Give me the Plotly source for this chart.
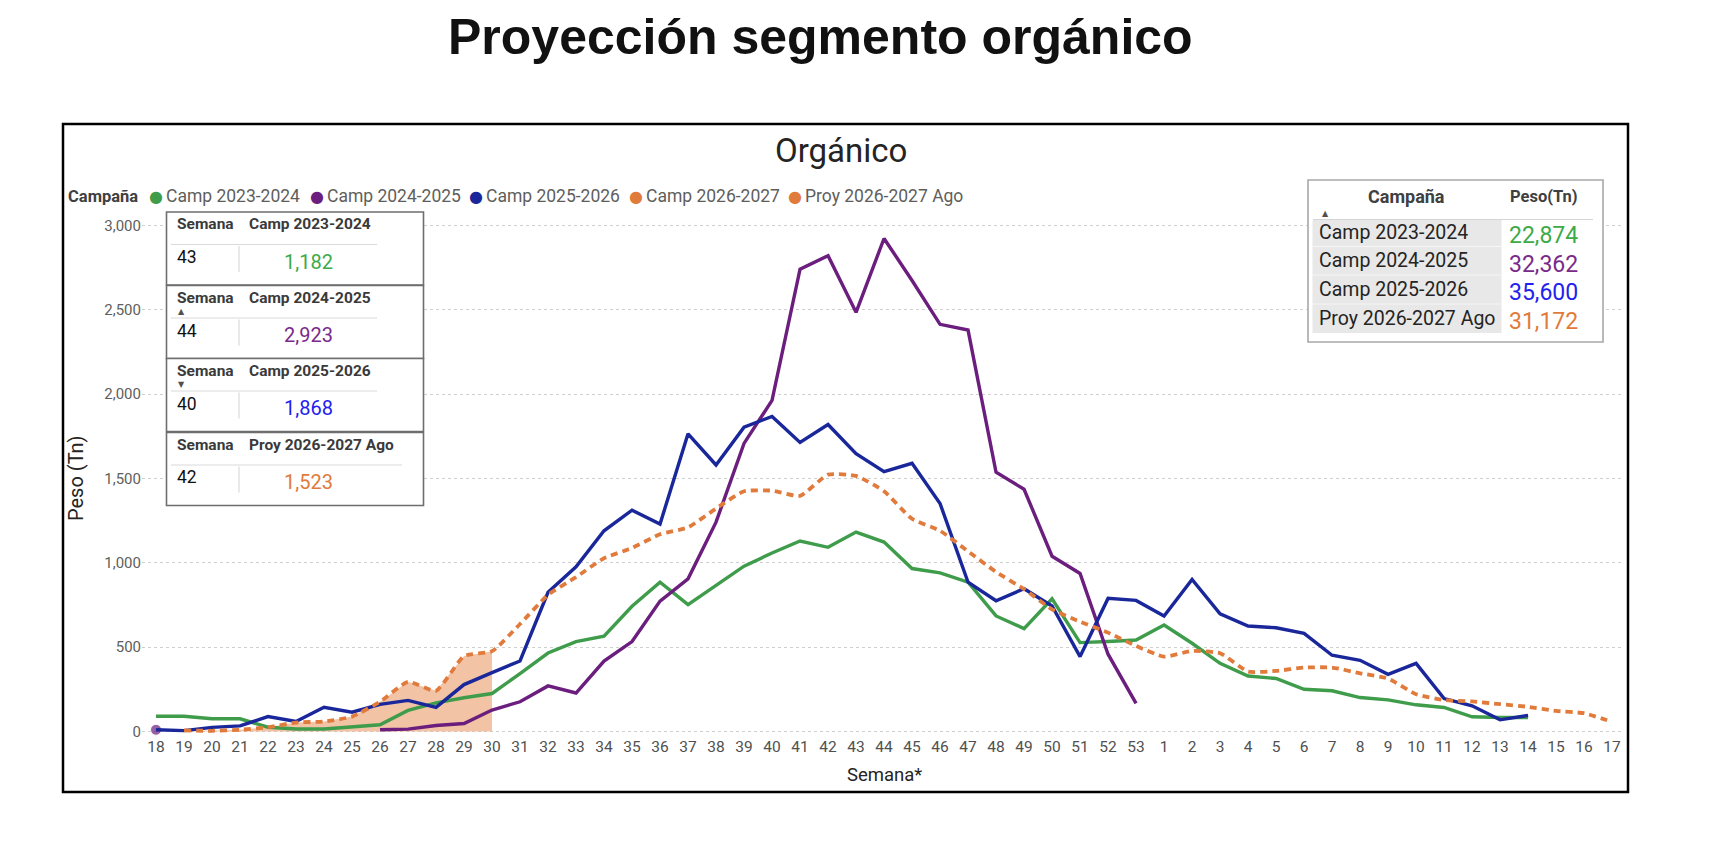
import plotly.graph_objects as go

# ---------------- DATA ----------------
weeks = ["18", "19", "20", "21", "22", "23", "24", "25", "26", "27", "28", "29", "30",
         "31", "32", "33", "34", "35", "36", "37", "38", "39", "40", "41", "42", "43",
         "44", "45", "46", "47", "48", "49", "50", "51", "52", "53",
         "1", "2", "3", "4", "5", "6", "7", "8", "9", "10", "11", "12", "13", "14",
         "15", "16", "17"]

camp_2023_2024 = [90, 90, 75, 75, 25, 15, 15, 30, 40, 125, 170, 200, 225,
                  343, 465, 533, 565, 742, 885, 752, 864, 980, 1058, 1129, 1092, 1182,
                  1123, 966, 940, 885, 685, 610, 787, 527, 533, 542,
                  631, 523, 404, 329, 314, 250, 241, 201, 187, 158, 142, 87, 83, 83,
                  None, None, None]

camp_2024_2025 = [10, None, None, None, None, None, None, None, 10, 14, 35, 47, 127,
                  176, 270, 228, 417, 533, 773, 905, 1241, 1708, 1963, 2741, 2821, 2485,
                  2923, 2674, 2414, 2380, 1537, 1436, 1039, 937, 458, 166,
                  None, None, None, None, None, None, None, None, None, None, None, None, None, None,
                  None, None, None]

camp_2025_2026 = [10, 5, 24, 33, 88, 59, 143, 114, 161, 184, 143, 278, 349,
                  418, 825, 976, 1190, 1312, 1230, 1765, 1580, 1804, 1868, 1714, 1820, 1647,
                  1540, 1590, 1352, 885, 775, 846, 744, 444, 789, 777,
                  684, 901, 698, 625, 615, 582, 452, 422, 339, 404, 195, 152, 69, 95,
                  None, None, None]

camp_2026_2027 = [None, 6, 4, 10, 25, 53, 59, 88, 176, 294, 241, 447, 476,
                  None, None, None, None, None, None, None, None, None, None, None, None, None,
                  None, None, None, None, None, None, None, None, None, None,
                  None, None, None, None, None, None, None, None, None, None, None, None, None, None,
                  None, None, None]

proy_2026_2027_ago = [None, 6, 4, 10, 25, 53, 59, 88, 176, 294, 241, 447, 476,
                      637, 810, 915, 1027, 1088, 1169, 1210, 1322, 1424, 1428, 1397, 1523, 1515,
                      1424, 1261, 1190, 1068, 946, 844, 724, 651, 586, 507,
                      444, 477, 464, 355, 359, 379, 379, 345, 314, 221, 187, 178, 162, 146,
                      122, 108, 57]

y_ticks = [0, 500, 1000, 1500, 2000, 2500, 3000]

# Max tables (left)
max_headers = ["Camp 2023-2024", "Camp 2024-2025", "Camp 2025-2026", "Proy 2026-2027 Ago"]
max_weeks = ["43", "44", "40", "42"]
max_values = ["1,182", "2,923", "1,868", "1,523"]

# Totals table (right)
total_names = ["Camp 2023-2024", "Camp 2024-2025", "Camp 2025-2026", "Proy 2026-2027 Ago"]
total_values = ["22,874", "32,362", "35,600", "31,172"]

legend_names = ["Camp 2023-2024", "Camp 2024-2025", "Camp 2025-2026", "Camp 2026-2027", "Proy 2026-2027 Ago"]

# ---------------- STYLE ----------------
C_GREEN = "#3E9C4B"
C_PURPLE = "#6B1E7E"
C_BLUE = "#19279B"
C_ORANGE = "#E07B3C"
C_FILL = "rgba(238,178,140,0.78)"
TXT_GREEN = "#3DAA48"
TXT_PURPLE = "#7A2A8A"
TXT_BLUE = "#2222EE"
TXT_ORANGE = "#E07B3C"
FONT = "Roboto"

W, H = 1726, 844
OFF = 8  # default page body margin
L, R, T, B = 142, 1623, 212, 735   # plot area in screenshot pixels

def fx(px):
    return (px - L) / (R - L)

def fy(py):
    return (B - py) / (B - T)

def isolated_sizes(vals, size):
    out = []
    for i, v in enumerate(vals):
        prev_v = vals[i - 1] if i > 0 else None
        next_v = vals[i + 1] if i < len(vals) - 1 else None
        out.append(size if (v is not None and prev_v is None and next_v is None) else 0)
    return out

fig = go.Figure()

fig.add_trace(go.Scatter(x=weeks, y=camp_2026_2027, name="Camp 2026-2027", mode="lines",
                         line=dict(width=0, color=C_FILL), fill="tozeroy", fillcolor=C_FILL,
                         showlegend=False))
fig.add_trace(go.Scatter(x=weeks, y=camp_2023_2024, name="Camp 2023-2024", mode="lines",
                         line=dict(width=3.4, color=C_GREEN), showlegend=False))
fig.add_trace(go.Scatter(x=weeks, y=camp_2024_2025, name="Camp 2024-2025", mode="lines+markers",
                         line=dict(width=3.4, color=C_PURPLE),
                         marker=dict(size=isolated_sizes(camp_2024_2025, 11), color=C_PURPLE),
                         cliponaxis=False, showlegend=False))
fig.add_trace(go.Scatter(x=weeks, y=camp_2025_2026, name="Camp 2025-2026", mode="lines",
                         line=dict(width=3.4, color=C_BLUE), showlegend=False))
fig.add_trace(go.Scatter(x=weeks, y=proy_2026_2027_ago, name="Proy 2026-2027 Ago", mode="lines",
                         line=dict(width=3.8, color=C_ORANGE, dash="7px,5px", shape="spline", smoothing=0.5),
                         showlegend=False))

shapes = []
annotations = []

def ann(text, x, y, size, color, xanchor="center", family=FONT, **kw):
    annotations.append(dict(text=text, xref="paper", yref="paper", x=fx(x), y=fy(y),
                            xanchor=xanchor, yanchor="middle", showarrow=False,
                            font=dict(family=family, size=size, color=color), **kw))

# Outer frame
shapes.append(dict(type="rect", xref="paper", yref="paper", x0=fx(63), x1=fx(1628), y0=fy(792), y1=fy(124),
                   line=dict(color="black", width=2.5), layer="above"))

# Titles
ann("<b>Proyección segmento orgánico</b>", 820, 37, 50, "#111111", family="Liberation Sans")
ann("Orgánico", 841, 151, 33, "#252423")

# Legend
ann("<b>Campaña</b>", 140, 196, 16.5, "#404040", xanchor="right")
dot_x = [156, 317, 476, 636, 795]
leg_colors = [C_GREEN, C_PURPLE, C_BLUE, C_ORANGE, C_ORANGE]
for name, dx, col in zip(legend_names, dot_x, leg_colors):
    ann("●", dx, 196, 16, col, family="DejaVu Sans")
    ann(name, dx + 8, 196, 17.5, "#605E5C", xanchor="left")

# Axis titles
ann("Peso (Tn)", 76, 478, 20, "#252423", textangle=-90)
ann("Semana*", 884, 775, 18.5, "#252423")

# Left max tables
block_tops = [212, 285.5, 358.5, 432.5]
block_h = 73
val_colors = [TXT_GREEN, TXT_PURPLE, TXT_BLUE, TXT_ORANGE]
arrows = ["", "▲", "▼", ""]
for hdr, wk, val, col, arr, t in zip(max_headers, max_weeks, max_values, val_colors, arrows, block_tops):
    shapes.append(dict(type="rect", xref="paper", yref="paper", x0=fx(166.5), x1=fx(423.5),
                       y0=fy(t + block_h), y1=fy(t), fillcolor="white",
                       line=dict(color="#6E6E6E", width=1.6), layer="above"))
    line_end = 402 if len(hdr) > 15 else 377
    shapes.append(dict(type="line", xref="paper", yref="paper", x0=fx(171), x1=fx(line_end),
                       y0=fy(t + 32.5), y1=fy(t + 32.5), line=dict(color="#DADADA", width=1.2), layer="above"))
    shapes.append(dict(type="line", xref="paper", yref="paper", x0=fx(239), x1=fx(239),
                       y0=fy(t + 34), y1=fy(t + 60), line=dict(color="#DADADA", width=1.2), layer="above"))
    ann("<b>Semana</b>", 175, t + 12, 15.5, "#3A3A3A", xanchor="left")
    ann("<b>" + hdr + "</b>", 247, t + 12, 15.5, "#3A3A3A", xanchor="left")
    if arr:
        ann(arr, 181, t + 26, 8, "#505050", family="DejaVu Sans")
    ann(wk, 175, t + 45, 17.5, "#111111", xanchor="left")
    ann(val, 308, t + 49.5, 20, col)

# Right totals table
shapes.append(dict(type="rect", xref="paper", yref="paper", x0=fx(1308), x1=fx(1603),
                   y0=fy(342), y1=fy(180), fillcolor="white",
                   line=dict(color="#A8A8A8", width=1.6), layer="above"))
shapes.append(dict(type="rect", xref="paper", yref="paper", x0=fx(1312.5), x1=fx(1501.5),
                   y0=fy(333), y1=fy(220), fillcolor="#E8E8E8",
                   line=dict(width=0), layer="above"))
shapes.append(dict(type="line", xref="paper", yref="paper", x0=fx(1313), x1=fx(1593),
                   y0=fy(219.5), y1=fy(219.5), line=dict(color="#D5D5D5", width=1.2), layer="above"))
for yy in [246.5, 275, 304]:
    shapes.append(dict(type="line", xref="paper", yref="paper", x0=fx(1312.5), x1=fx(1501.5),
                       y0=fy(yy), y1=fy(yy), line=dict(color="#F6F6F6", width=1), layer="above"))
ann("<b>Campaña</b>", 1406, 196, 18, "#404040")
ann("<b>Peso(Tn)</b>", 1544, 196, 16.5, "#404040")
ann("▲", 1325, 213, 8, "#505050", family="DejaVu Sans")
row_y = [232.5, 261, 289.5, 318.5]
for nm, val, col, ry in zip(total_names, total_values, val_colors, row_y):
    ann(nm, 1317, ry, 19.5, "#252423", xanchor="left")
    ann(val, 1580, ry + 3, 23, col, xanchor="right")

fig.update_layout(
    width=W - 2 * OFF, height=H - 2 * OFF,
    margin=dict(l=L - OFF, r=(W - 2 * OFF) - (R - OFF), t=T - OFF, b=(H - 2 * OFF) - (B - OFF)),
    paper_bgcolor="white", plot_bgcolor="white",
    showlegend=False,
    shapes=shapes, annotations=annotations,
    font=dict(family=FONT),
)
fig.update_xaxes(type="category", categoryorder="array", categoryarray=weeks,
                 range=[-0.5, 52.39], showgrid=False, zeroline=False, showline=False,
                 ticks="", tickfont=dict(family=FONT, size=15.5, color="#505050"))
fig.update_yaxes(range=[-21, 3080], tickvals=y_ticks, tickformat=",",
                 showgrid=True, gridcolor="#CFCFCF", gridwidth=1, griddash="dot",
                 zeroline=False, showline=False, ticks="",
                 tickfont=dict(family=FONT, size=15, color="#605E5C"))

fig.write_html("out.html")
